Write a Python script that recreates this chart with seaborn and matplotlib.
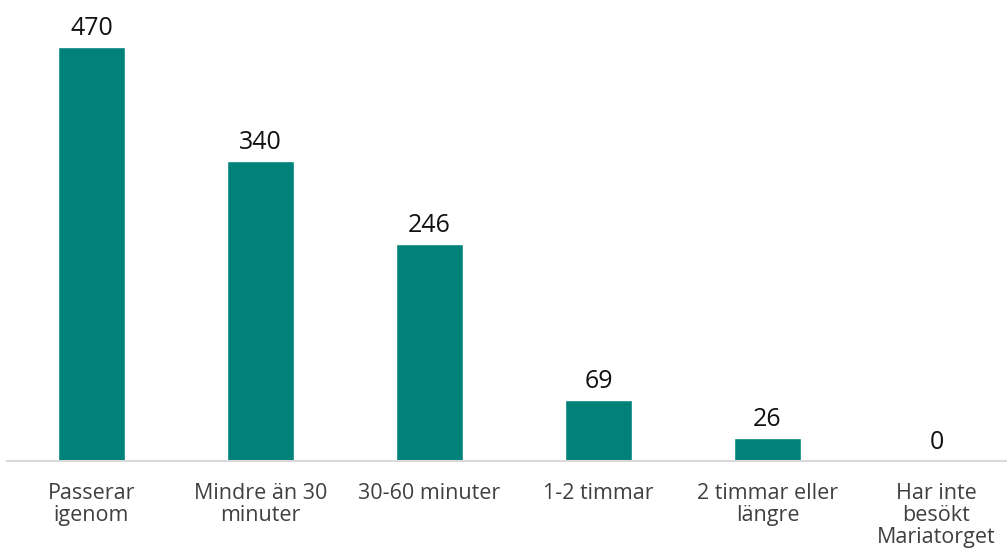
import matplotlib
matplotlib.use("Agg")
import matplotlib.pyplot as plt
import seaborn as sns
import pandas as pd

categories = ["Passerar\nigenom", "Mindre än 30\nminuter", "30-60 minuter", "1-2 timmar",
              "2 timmar eller\nlängre", "Har inte\nbesökt\nMariatorget"]
values = [470, 340, 246, 69, 26, 0]
value_labels = ["470", "340", "246", "69", "26", "0"]

sns.set_theme(style="white")
plt.rcParams['font.family'] = ['Open Sans', 'DejaVu Sans']

df = pd.DataFrame({"cat": categories, "val": values})

fig = plt.figure(figsize=(10.07, 5.53), dpi=100)
ax = fig.add_axes([7/1007, (553-461)/553, 1014/1007, 461/553])
sns.barplot(data=df, x="cat", y="val", color="#00827A", saturation=1, width=0.4, ax=ax)
ax.set_xlim(-0.5, 5.5)
ax.set_ylim(0, 523)
for i, (v, t) in enumerate(zip(values, value_labels)):
    ax.text(i, v + 7, t, ha="center", va="bottom", fontsize=18, color="#111111")
ax.set_xlabel("")
ax.set_ylabel("")
ax.set_yticks([])
ax.tick_params(axis="x", length=0, pad=16, labelsize=15.5, labelcolor="#404040")
for lab in ax.get_xticklabels():
    lab.set_linespacing(1.05)
for s in ["top", "right", "left"]:
    ax.spines[s].set_visible(False)
ax.spines["bottom"].set_color("#D9D9D9")
ax.spines["bottom"].set_linewidth(1.5)
fig.savefig("out.png", dpi=100)
